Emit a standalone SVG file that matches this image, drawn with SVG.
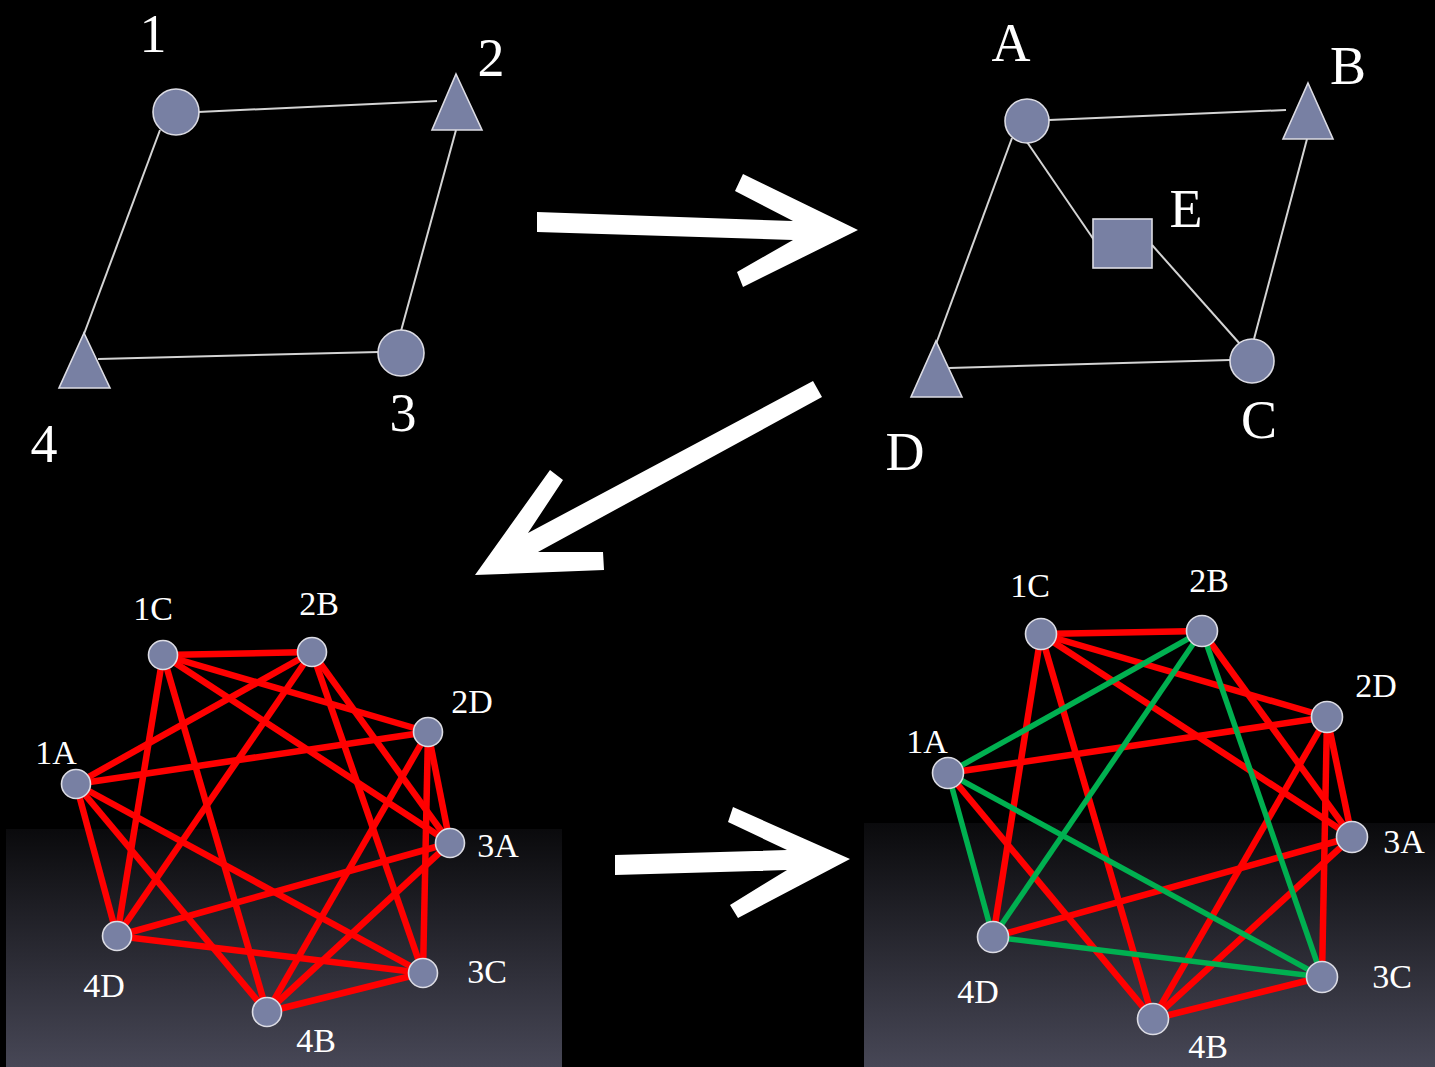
<svg xmlns="http://www.w3.org/2000/svg" width="1435" height="1067" viewBox="0 0 1435 1067">
<defs>
<linearGradient id="panel" x1="0" y1="0" x2="0" y2="1">
<stop offset="0" stop-color="#0a0a0c"/>
<stop offset="1" stop-color="#474756"/>
</linearGradient>
</defs>
<style>
.nd{fill:#7880a3;stroke:#dcdce4;stroke-width:1.6}
.thin{stroke:#d4d4d4;stroke-width:2;fill:none}
.red{stroke:#ff0000;stroke-width:6.5;fill:none}
.grn{stroke:#00b050;stroke-width:5.5;fill:none}
.big{font-family:"Liberation Serif","Times New Roman",serif;font-size:54px;fill:#ffffff;text-anchor:middle}
.sm{font-family:"Liberation Serif","Times New Roman",serif;font-size:34px;fill:#ffffff;text-anchor:middle}
.arr{fill:#ffffff}
</style>
<rect x="0" y="0" width="1435" height="1067" fill="#000000"/>
<rect x="6" y="829" width="556" height="238" fill="url(#panel)"/>
<rect x="864" y="823" width="571" height="244" fill="url(#panel)"/>

<g id="connectors">
<line class="thin" x1="198" y1="112" x2="437" y2="101"/>
<line class="thin" x1="160" y1="130" x2="84" y2="334"/>
<line class="thin" x1="456" y1="130" x2="401" y2="331"/>
<line class="thin" x1="98" y1="359" x2="379" y2="352"/>
<line class="thin" x1="1049" y1="120" x2="1286" y2="110"/>
<line class="thin" x1="1012" y1="138" x2="936" y2="344"/>
<line class="thin" x1="1027" y1="142" x2="1094" y2="240"/>
<line class="thin" x1="1152" y1="245" x2="1240" y2="344"/>
<line class="thin" x1="1307" y1="139" x2="1254" y2="339"/>
<line class="thin" x1="949" y1="368" x2="1230" y2="360"/>
<polygon class="arr" points="537,212 793,221 735,191 743,174 858,230 743,287 737,272 793,240 537,232"/>
<polygon class="arr" points="813,381 822,397 538,552 603,552 604,570 475,575 550,470 563,480 528,533"/>
<polygon class="arr" points="615,855 787,850 728,822 733,807 850,859 738,918 730,905 787,870 615,875"/>
<g id="edges-left">
<line class="red" x1="163" y1="655" x2="312" y2="652"/>
<line class="red" x1="163" y1="655" x2="428" y2="732"/>
<line class="red" x1="163" y1="655" x2="450" y2="843"/>
<line class="red" x1="163" y1="655" x2="117" y2="936"/>
<line class="red" x1="163" y1="655" x2="267" y2="1012"/>
<line class="red" x1="312" y1="652" x2="76" y2="784"/>
<line class="red" x1="312" y1="652" x2="117" y2="936"/>
<line class="red" x1="312" y1="652" x2="450" y2="843"/>
<line class="red" x1="312" y1="652" x2="423" y2="973"/>
<line class="red" x1="428" y1="732" x2="76" y2="784"/>
<line class="red" x1="428" y1="732" x2="450" y2="843"/>
<line class="red" x1="428" y1="732" x2="423" y2="973"/>
<line class="red" x1="428" y1="732" x2="267" y2="1012"/>
<line class="red" x1="450" y1="843" x2="117" y2="936"/>
<line class="red" x1="450" y1="843" x2="267" y2="1012"/>
<line class="red" x1="423" y1="973" x2="76" y2="784"/>
<line class="red" x1="423" y1="973" x2="117" y2="936"/>
<line class="red" x1="423" y1="973" x2="267" y2="1012"/>
<line class="red" x1="267" y1="1012" x2="76" y2="784"/>
<line class="red" x1="117" y1="936" x2="76" y2="784"/>
</g>
<g id="edges-right">
<line class="red" x1="1041" y1="634" x2="1202" y2="631"/>
<line class="red" x1="1041" y1="634" x2="1327" y2="717"/>
<line class="red" x1="1041" y1="634" x2="1352" y2="837"/>
<line class="red" x1="1041" y1="634" x2="993" y2="937"/>
<line class="red" x1="1041" y1="634" x2="1153" y2="1019"/>
<line class="red" x1="1202" y1="631" x2="1352" y2="837"/>
<line class="red" x1="1327" y1="717" x2="948" y2="773"/>
<line class="red" x1="1327" y1="717" x2="1352" y2="837"/>
<line class="red" x1="1327" y1="717" x2="1322" y2="977"/>
<line class="red" x1="1327" y1="717" x2="1153" y2="1019"/>
<line class="red" x1="1352" y1="837" x2="993" y2="937"/>
<line class="red" x1="1352" y1="837" x2="1153" y2="1019"/>
<line class="red" x1="1322" y1="977" x2="1153" y2="1019"/>
<line class="red" x1="1153" y1="1019" x2="948" y2="773"/>
<line class="grn" x1="1202" y1="631" x2="948" y2="773"/>
<line class="grn" x1="1202" y1="631" x2="993" y2="937"/>
<line class="grn" x1="1202" y1="631" x2="1322" y2="977"/>
<line class="grn" x1="948" y1="773" x2="993" y2="937"/>
<line class="grn" x1="948" y1="773" x2="1322" y2="977"/>
<line class="grn" x1="993" y1="937" x2="1322" y2="977"/>
</g>
</g>

<g id="n1"><circle class="nd" cx="176" cy="112" r="23"/><text class="big" x="153" y="52">1</text></g>
<g id="n2"><polygon class="nd" points="456,74 482,130 432,130"/><text class="big" x="491" y="76">2</text></g>
<g id="n3"><circle class="nd" cx="401" cy="353" r="23"/><text class="big" x="403" y="431">3</text></g>
<g id="n4"><polygon class="nd" points="84,333 110,388 59,388"/><text class="big" x="44" y="462">4</text></g>

<g id="nA"><circle class="nd" cx="1027" cy="121" r="22"/><text class="big" x="1011" y="61">A</text></g>
<g id="nB"><polygon class="nd" points="1308,83 1333,139 1283,139"/><text class="big" x="1348" y="84">B</text></g>
<g id="nE"><rect class="nd" x="1093" y="219" width="59" height="49"/><text class="big" x="1186" y="227">E</text></g>
<g id="nC"><circle class="nd" cx="1252" cy="361" r="22"/><text class="big" x="1259" y="438">C</text></g>
<g id="nD"><polygon class="nd" points="936,341 962,397 911,397"/><text class="big" x="905" y="470">D</text></g>

<g id="L1C"><circle class="nd" cx="163" cy="655" r="14.5"/><text class="sm" x="153" y="620">1C</text></g>
<g id="L2B"><circle class="nd" cx="312" cy="652" r="14.5"/><text class="sm" x="319" y="615">2B</text></g>
<g id="L2D"><circle class="nd" cx="428" cy="732" r="14.5"/><text class="sm" x="472" y="713">2D</text></g>
<g id="L1A"><circle class="nd" cx="76" cy="784" r="14.5"/><text class="sm" x="56" y="764">1A</text></g>
<g id="L3A"><circle class="nd" cx="450" cy="843" r="14.5"/><text class="sm" x="498" y="857">3A</text></g>
<g id="L3C"><circle class="nd" cx="423" cy="973" r="14.5"/><text class="sm" x="487" y="983">3C</text></g>
<g id="L4D"><circle class="nd" cx="117" cy="936" r="14.5"/><text class="sm" x="104" y="997">4D</text></g>
<g id="L4B"><circle class="nd" cx="267" cy="1012" r="14.5"/><text class="sm" x="316" y="1052">4B</text></g>

<g id="R1C"><circle class="nd" cx="1041" cy="634" r="15.5"/><text class="sm" x="1030" y="597">1C</text></g>
<g id="R2B"><circle class="nd" cx="1202" cy="631" r="15.5"/><text class="sm" x="1209" y="592">2B</text></g>
<g id="R2D"><circle class="nd" cx="1327" cy="717" r="15.5"/><text class="sm" x="1376" y="697">2D</text></g>
<g id="R1A"><circle class="nd" cx="948" cy="773" r="15.5"/><text class="sm" x="927" y="753">1A</text></g>
<g id="R3A"><circle class="nd" cx="1352" cy="837" r="15.5"/><text class="sm" x="1404" y="853">3A</text></g>
<g id="R3C"><circle class="nd" cx="1322" cy="977" r="15.5"/><text class="sm" x="1392" y="988">3C</text></g>
<g id="R4D"><circle class="nd" cx="993" cy="937" r="15.5"/><text class="sm" x="978" y="1003">4D</text></g>
<g id="R4B"><circle class="nd" cx="1153" cy="1019" r="15.5"/><text class="sm" x="1208" y="1058">4B</text></g>
</svg>
